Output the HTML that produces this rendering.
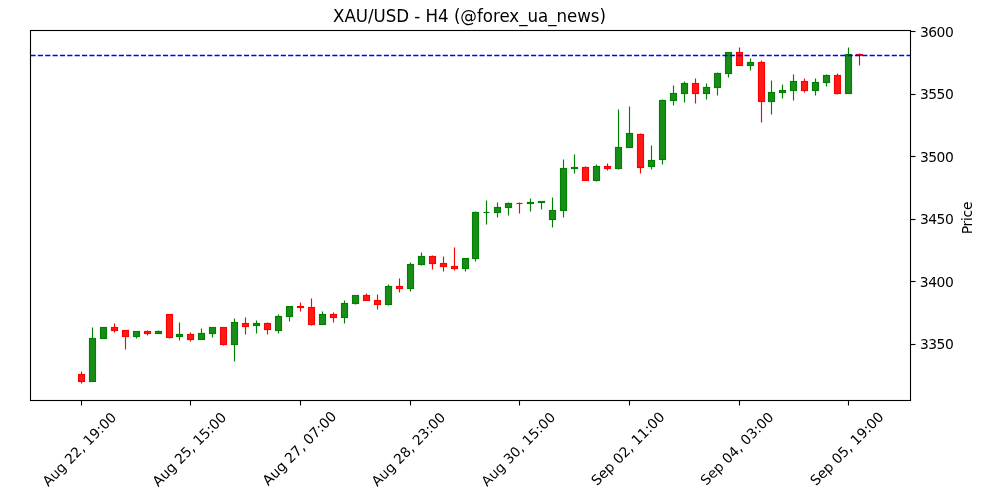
<!DOCTYPE html>
<html lang="en">
<head>
<meta charset="utf-8">
<title>XAU/USD - H4 (@forex_ua_news)</title>
<style>
html,body{margin:0;padding:0;background:#fff;}
body{width:1000px;height:500px;overflow:hidden;}
svg{display:block;}
text{font-family:"DejaVu Sans","Liberation Sans",sans-serif;fill:#000;}
</style>
</head>
<body>
<svg width="1000" height="500" viewBox="0 0 1000 500">
<rect x="0" y="0" width="1000" height="500" fill="#ffffff"/>
<g stroke-width="1.146" fill="none">
<line x1="81.5" x2="81.5" y1="371.5" y2="374.5" stroke="#ff0000"/>
<line x1="81.5" x2="81.5" y1="381.5" y2="383.5" stroke="#ff0000"/>
<line x1="92.5" x2="92.5" y1="327.5" y2="338.5" stroke="#008000"/>
<line x1="114.5" x2="114.5" y1="323.5" y2="327.5" stroke="#ff0000"/>
<line x1="114.5" x2="114.5" y1="330.5" y2="332.5" stroke="#ff0000"/>
<line x1="125.5" x2="125.5" y1="336.5" y2="349.5" stroke="#ff0000"/>
<line x1="136.5" x2="136.5" y1="336.5" y2="338.5" stroke="#008000"/>
<line x1="147.5" x2="147.5" y1="330.5" y2="331.5" stroke="#ff0000"/>
<line x1="147.5" x2="147.5" y1="333.5" y2="335.5" stroke="#ff0000"/>
<line x1="158.5" x2="158.5" y1="330.5" y2="331.5" stroke="#008000"/>
<line x1="169.5" x2="169.5" y1="337.5" y2="338.5" stroke="#ff0000"/>
<line x1="179.5" x2="179.5" y1="322.5" y2="334.5" stroke="#008000"/>
<line x1="179.5" x2="179.5" y1="336.5" y2="340.5" stroke="#008000"/>
<line x1="190.5" x2="190.5" y1="332.5" y2="334.5" stroke="#ff0000"/>
<line x1="190.5" x2="190.5" y1="339.5" y2="341.5" stroke="#ff0000"/>
<line x1="201.5" x2="201.5" y1="328.5" y2="333.5" stroke="#008000"/>
<line x1="212.5" x2="212.5" y1="333.5" y2="337.5" stroke="#008000"/>
<line x1="223.5" x2="223.5" y1="344.5" y2="345.5" stroke="#ff0000"/>
<line x1="234.5" x2="234.5" y1="318.5" y2="322.5" stroke="#008000"/>
<line x1="234.5" x2="234.5" y1="344.5" y2="361.5" stroke="#008000"/>
<line x1="245.5" x2="245.5" y1="317.5" y2="323.5" stroke="#ff0000"/>
<line x1="245.5" x2="245.5" y1="326.5" y2="334.5" stroke="#ff0000"/>
<line x1="256.5" x2="256.5" y1="320.5" y2="323.5" stroke="#008000"/>
<line x1="256.5" x2="256.5" y1="325.5" y2="333.5" stroke="#008000"/>
<line x1="267.5" x2="267.5" y1="322.5" y2="323.5" stroke="#ff0000"/>
<line x1="267.5" x2="267.5" y1="329.5" y2="334.5" stroke="#ff0000"/>
<line x1="278.5" x2="278.5" y1="314.5" y2="316.5" stroke="#008000"/>
<line x1="278.5" x2="278.5" y1="330.5" y2="333.5" stroke="#008000"/>
<line x1="289.5" x2="289.5" y1="316.5" y2="321.5" stroke="#008000"/>
<line x1="300.5" x2="300.5" y1="302.5" y2="306.5" stroke="#ff0000"/>
<line x1="300.5" x2="300.5" y1="307.5" y2="311.5" stroke="#ff0000"/>
<line x1="311.5" x2="311.5" y1="298.5" y2="307.5" stroke="#ff0000"/>
<line x1="311.5" x2="311.5" y1="324.5" y2="325.5" stroke="#ff0000"/>
<line x1="322.5" x2="322.5" y1="311.5" y2="314.5" stroke="#008000"/>
<line x1="333.5" x2="333.5" y1="312.5" y2="314.5" stroke="#ff0000"/>
<line x1="333.5" x2="333.5" y1="317.5" y2="322.5" stroke="#ff0000"/>
<line x1="344.5" x2="344.5" y1="300.5" y2="303.5" stroke="#008000"/>
<line x1="344.5" x2="344.5" y1="317.5" y2="323.5" stroke="#008000"/>
<line x1="355.5" x2="355.5" y1="303.5" y2="304.5" stroke="#008000"/>
<line x1="366.5" x2="366.5" y1="293.5" y2="295.5" stroke="#ff0000"/>
<line x1="377.5" x2="377.5" y1="294.5" y2="300.5" stroke="#ff0000"/>
<line x1="377.5" x2="377.5" y1="304.5" y2="309.5" stroke="#ff0000"/>
<line x1="388.5" x2="388.5" y1="284.5" y2="286.5" stroke="#008000"/>
<line x1="388.5" x2="388.5" y1="304.5" y2="305.5" stroke="#008000"/>
<line x1="399.5" x2="399.5" y1="278.5" y2="286.5" stroke="#ff0000"/>
<line x1="399.5" x2="399.5" y1="288.5" y2="292.5" stroke="#ff0000"/>
<line x1="410.5" x2="410.5" y1="262.5" y2="264.5" stroke="#008000"/>
<line x1="410.5" x2="410.5" y1="288.5" y2="291.5" stroke="#008000"/>
<line x1="421.5" x2="421.5" y1="252.5" y2="256.5" stroke="#008000"/>
<line x1="421.5" x2="421.5" y1="264.5" y2="265.5" stroke="#008000"/>
<line x1="432.5" x2="432.5" y1="255.5" y2="256.5" stroke="#ff0000"/>
<line x1="432.5" x2="432.5" y1="263.5" y2="269.5" stroke="#ff0000"/>
<line x1="443.5" x2="443.5" y1="256.5" y2="263.5" stroke="#ff0000"/>
<line x1="443.5" x2="443.5" y1="266.5" y2="271.5" stroke="#ff0000"/>
<line x1="454.5" x2="454.5" y1="247.5" y2="266.5" stroke="#ff0000"/>
<line x1="454.5" x2="454.5" y1="268.5" y2="270.5" stroke="#ff0000"/>
<line x1="465.5" x2="465.5" y1="268.5" y2="271.5" stroke="#008000"/>
<line x1="475.5" x2="475.5" y1="211.5" y2="212.5" stroke="#008000"/>
<line x1="475.5" x2="475.5" y1="258.5" y2="261.5" stroke="#008000"/>
<line x1="486.5" x2="486.5" y1="200.5" y2="212.5" stroke="#008000"/>
<line x1="486.5" x2="486.5" y1="212.5" y2="224.5" stroke="#008000"/>
<line x1="497.5" x2="497.5" y1="202.5" y2="207.5" stroke="#008000"/>
<line x1="497.5" x2="497.5" y1="212.5" y2="217.5" stroke="#008000"/>
<line x1="508.5" x2="508.5" y1="202.5" y2="203.5" stroke="#008000"/>
<line x1="508.5" x2="508.5" y1="207.5" y2="215.5" stroke="#008000"/>
<line x1="519.5" x2="519.5" y1="202.5" y2="203.5" stroke="#ff0000"/>
<line x1="519.5" x2="519.5" y1="203.5" y2="213.5" stroke="#ff0000"/>
<line x1="530.5" x2="530.5" y1="198.5" y2="202.5" stroke="#008000"/>
<line x1="530.5" x2="530.5" y1="203.5" y2="211.5" stroke="#008000"/>
<line x1="541.5" x2="541.5" y1="202.5" y2="209.5" stroke="#008000"/>
<line x1="552.5" x2="552.5" y1="197.5" y2="210.5" stroke="#008000"/>
<line x1="552.5" x2="552.5" y1="219.5" y2="227.5" stroke="#008000"/>
<line x1="563.5" x2="563.5" y1="159.5" y2="168.5" stroke="#008000"/>
<line x1="563.5" x2="563.5" y1="210.5" y2="217.5" stroke="#008000"/>
<line x1="574.5" x2="574.5" y1="154.5" y2="167.5" stroke="#008000"/>
<line x1="574.5" x2="574.5" y1="168.5" y2="173.5" stroke="#008000"/>
<line x1="585.5" x2="585.5" y1="166.5" y2="167.5" stroke="#ff0000"/>
<line x1="596.5" x2="596.5" y1="164.5" y2="166.5" stroke="#008000"/>
<line x1="596.5" x2="596.5" y1="180.5" y2="181.5" stroke="#008000"/>
<line x1="607.5" x2="607.5" y1="163.5" y2="166.5" stroke="#ff0000"/>
<line x1="607.5" x2="607.5" y1="168.5" y2="170.5" stroke="#ff0000"/>
<line x1="618.5" x2="618.5" y1="109.5" y2="147.5" stroke="#008000"/>
<line x1="618.5" x2="618.5" y1="168.5" y2="169.5" stroke="#008000"/>
<line x1="629.5" x2="629.5" y1="106.5" y2="133.5" stroke="#008000"/>
<line x1="640.5" x2="640.5" y1="133.5" y2="134.5" stroke="#ff0000"/>
<line x1="640.5" x2="640.5" y1="167.5" y2="173.5" stroke="#ff0000"/>
<line x1="651.5" x2="651.5" y1="145.5" y2="160.5" stroke="#008000"/>
<line x1="651.5" x2="651.5" y1="166.5" y2="169.5" stroke="#008000"/>
<line x1="662.5" x2="662.5" y1="99.5" y2="100.5" stroke="#008000"/>
<line x1="662.5" x2="662.5" y1="159.5" y2="164.5" stroke="#008000"/>
<line x1="673.5" x2="673.5" y1="85.5" y2="93.5" stroke="#008000"/>
<line x1="673.5" x2="673.5" y1="100.5" y2="105.5" stroke="#008000"/>
<line x1="684.5" x2="684.5" y1="81.5" y2="83.5" stroke="#008000"/>
<line x1="684.5" x2="684.5" y1="93.5" y2="102.5" stroke="#008000"/>
<line x1="695.5" x2="695.5" y1="78.5" y2="83.5" stroke="#ff0000"/>
<line x1="695.5" x2="695.5" y1="93.5" y2="103.5" stroke="#ff0000"/>
<line x1="706.5" x2="706.5" y1="83.5" y2="87.5" stroke="#008000"/>
<line x1="706.5" x2="706.5" y1="93.5" y2="99.5" stroke="#008000"/>
<line x1="717.5" x2="717.5" y1="72.5" y2="73.5" stroke="#008000"/>
<line x1="717.5" x2="717.5" y1="87.5" y2="95.5" stroke="#008000"/>
<line x1="728.5" x2="728.5" y1="73.5" y2="77.5" stroke="#008000"/>
<line x1="739.5" x2="739.5" y1="47.5" y2="52.5" stroke="#ff0000"/>
<line x1="750.5" x2="750.5" y1="58.5" y2="62.5" stroke="#008000"/>
<line x1="750.5" x2="750.5" y1="65.5" y2="70.5" stroke="#008000"/>
<line x1="761.5" x2="761.5" y1="60.5" y2="62.5" stroke="#ff0000"/>
<line x1="761.5" x2="761.5" y1="101.5" y2="122.5" stroke="#ff0000"/>
<line x1="771.5" x2="771.5" y1="80.5" y2="92.5" stroke="#008000"/>
<line x1="771.5" x2="771.5" y1="101.5" y2="114.5" stroke="#008000"/>
<line x1="782.5" x2="782.5" y1="84.5" y2="90.5" stroke="#008000"/>
<line x1="782.5" x2="782.5" y1="92.5" y2="98.5" stroke="#008000"/>
<line x1="793.5" x2="793.5" y1="74.5" y2="81.5" stroke="#008000"/>
<line x1="793.5" x2="793.5" y1="90.5" y2="100.5" stroke="#008000"/>
<line x1="804.5" x2="804.5" y1="78.5" y2="81.5" stroke="#ff0000"/>
<line x1="804.5" x2="804.5" y1="90.5" y2="92.5" stroke="#ff0000"/>
<line x1="815.5" x2="815.5" y1="78.5" y2="82.5" stroke="#008000"/>
<line x1="815.5" x2="815.5" y1="90.5" y2="95.5" stroke="#008000"/>
<line x1="826.5" x2="826.5" y1="74.5" y2="75.5" stroke="#008000"/>
<line x1="826.5" x2="826.5" y1="82.5" y2="86.5" stroke="#008000"/>
<line x1="837.5" x2="837.5" y1="73.5" y2="75.5" stroke="#ff0000"/>
<line x1="837.5" x2="837.5" y1="93.5" y2="94.5" stroke="#ff0000"/>
<line x1="848.5" x2="848.5" y1="47.5" y2="54.5" stroke="#008000"/>
<line x1="859.5" x2="859.5" y1="53.5" y2="54.5" stroke="#ff0000"/>
<line x1="859.5" x2="859.5" y1="55.5" y2="65.5" stroke="#ff0000"/>
</g>
<g stroke-width="1.146" fill-opacity="0.9">
<rect x="78.5" y="374.5" width="6" height="7" fill="#ff0000" stroke="#ff0000"/>
<rect x="89.5" y="338.5" width="6" height="43" fill="#008000" stroke="#008000"/>
<rect x="100.5" y="327.5" width="6" height="11" fill="#008000" stroke="#008000"/>
<rect x="111.5" y="327.5" width="6" height="3" fill="#ff0000" stroke="#ff0000"/>
<rect x="122.5" y="330.5" width="6" height="6" fill="#ff0000" stroke="#ff0000"/>
<rect x="133.5" y="331.5" width="6" height="5" fill="#008000" stroke="#008000"/>
<rect x="144.5" y="331.5" width="6" height="2" fill="#ff0000" stroke="#ff0000"/>
<rect x="155.5" y="331.5" width="6" height="2" fill="#008000" stroke="#008000"/>
<rect x="166.5" y="314.5" width="6" height="23" fill="#ff0000" stroke="#ff0000"/>
<rect x="176.5" y="334.5" width="6" height="2" fill="#008000" stroke="#008000"/>
<rect x="187.5" y="334.5" width="6" height="5" fill="#ff0000" stroke="#ff0000"/>
<rect x="198.5" y="333.5" width="6" height="6" fill="#008000" stroke="#008000"/>
<rect x="209.5" y="327.5" width="6" height="6" fill="#008000" stroke="#008000"/>
<rect x="220.5" y="327.5" width="6" height="17" fill="#ff0000" stroke="#ff0000"/>
<rect x="231.5" y="322.5" width="6" height="22" fill="#008000" stroke="#008000"/>
<rect x="242.5" y="323.5" width="6" height="3" fill="#ff0000" stroke="#ff0000"/>
<rect x="253.5" y="323.5" width="6" height="2" fill="#008000" stroke="#008000"/>
<rect x="264.5" y="323.5" width="6" height="6" fill="#ff0000" stroke="#ff0000"/>
<rect x="275.5" y="316.5" width="6" height="14" fill="#008000" stroke="#008000"/>
<rect x="286.5" y="306.5" width="6" height="10" fill="#008000" stroke="#008000"/>
<rect x="297.5" y="306.5" width="6" height="1" fill="#ff0000" stroke="#ff0000"/>
<rect x="308.5" y="307.5" width="6" height="17" fill="#ff0000" stroke="#ff0000"/>
<rect x="319.5" y="314.5" width="6" height="10" fill="#008000" stroke="#008000"/>
<rect x="330.5" y="314.5" width="6" height="3" fill="#ff0000" stroke="#ff0000"/>
<rect x="341.5" y="303.5" width="6" height="14" fill="#008000" stroke="#008000"/>
<rect x="352.5" y="295.5" width="6" height="8" fill="#008000" stroke="#008000"/>
<rect x="363.5" y="295.5" width="6" height="5" fill="#ff0000" stroke="#ff0000"/>
<rect x="374.5" y="300.5" width="6" height="4" fill="#ff0000" stroke="#ff0000"/>
<rect x="385.5" y="286.5" width="6" height="18" fill="#008000" stroke="#008000"/>
<rect x="396.5" y="286.5" width="6" height="2" fill="#ff0000" stroke="#ff0000"/>
<rect x="407.5" y="264.5" width="6" height="24" fill="#008000" stroke="#008000"/>
<rect x="418.5" y="256.5" width="6" height="8" fill="#008000" stroke="#008000"/>
<rect x="429.5" y="256.5" width="6" height="7" fill="#ff0000" stroke="#ff0000"/>
<rect x="440.5" y="263.5" width="6" height="3" fill="#ff0000" stroke="#ff0000"/>
<rect x="451.5" y="266.5" width="6" height="2" fill="#ff0000" stroke="#ff0000"/>
<rect x="462.5" y="258.5" width="6" height="10" fill="#008000" stroke="#008000"/>
<rect x="472.5" y="212.5" width="6" height="46" fill="#008000" stroke="#008000"/>
<line x1="483.5" x2="489.5" y1="212.5" y2="212.5" stroke="#008000"/>
<rect x="494.5" y="207.5" width="6" height="5" fill="#008000" stroke="#008000"/>
<rect x="505.5" y="203.5" width="6" height="4" fill="#008000" stroke="#008000"/>
<line x1="516.5" x2="522.5" y1="203.5" y2="203.5" stroke="#ff0000"/>
<rect x="527.5" y="202.5" width="6" height="1" fill="#008000" stroke="#008000"/>
<rect x="538.5" y="201.5" width="6" height="1" fill="#008000" stroke="#008000"/>
<rect x="549.5" y="210.5" width="6" height="9" fill="#008000" stroke="#008000"/>
<rect x="560.5" y="168.5" width="6" height="42" fill="#008000" stroke="#008000"/>
<rect x="571.5" y="167.5" width="6" height="1" fill="#008000" stroke="#008000"/>
<rect x="582.5" y="167.5" width="6" height="13" fill="#ff0000" stroke="#ff0000"/>
<rect x="593.5" y="166.5" width="6" height="14" fill="#008000" stroke="#008000"/>
<rect x="604.5" y="166.5" width="6" height="2" fill="#ff0000" stroke="#ff0000"/>
<rect x="615.5" y="147.5" width="6" height="21" fill="#008000" stroke="#008000"/>
<rect x="626.5" y="133.5" width="6" height="14" fill="#008000" stroke="#008000"/>
<rect x="637.5" y="134.5" width="6" height="33" fill="#ff0000" stroke="#ff0000"/>
<rect x="648.5" y="160.5" width="6" height="6" fill="#008000" stroke="#008000"/>
<rect x="659.5" y="100.5" width="6" height="59" fill="#008000" stroke="#008000"/>
<rect x="670.5" y="93.5" width="6" height="7" fill="#008000" stroke="#008000"/>
<rect x="681.5" y="83.5" width="6" height="10" fill="#008000" stroke="#008000"/>
<rect x="692.5" y="83.5" width="6" height="10" fill="#ff0000" stroke="#ff0000"/>
<rect x="703.5" y="87.5" width="6" height="6" fill="#008000" stroke="#008000"/>
<rect x="714.5" y="73.5" width="6" height="14" fill="#008000" stroke="#008000"/>
<rect x="725.5" y="52.5" width="6" height="21" fill="#008000" stroke="#008000"/>
<rect x="736.5" y="52.5" width="6" height="13" fill="#ff0000" stroke="#ff0000"/>
<rect x="747.5" y="62.5" width="6" height="3" fill="#008000" stroke="#008000"/>
<rect x="758.5" y="62.5" width="6" height="39" fill="#ff0000" stroke="#ff0000"/>
<rect x="768.5" y="92.5" width="6" height="9" fill="#008000" stroke="#008000"/>
<rect x="779.5" y="90.5" width="6" height="2" fill="#008000" stroke="#008000"/>
<rect x="790.5" y="81.5" width="6" height="9" fill="#008000" stroke="#008000"/>
<rect x="801.5" y="81.5" width="6" height="9" fill="#ff0000" stroke="#ff0000"/>
<rect x="812.5" y="82.5" width="6" height="8" fill="#008000" stroke="#008000"/>
<rect x="823.5" y="75.5" width="6" height="7" fill="#008000" stroke="#008000"/>
<rect x="834.5" y="75.5" width="6" height="18" fill="#ff0000" stroke="#ff0000"/>
<rect x="845.5" y="54.5" width="6" height="39" fill="#008000" stroke="#008000"/>
<rect x="856.5" y="54.5" width="6" height="1" fill="#ff0000" stroke="#ff0000"/>
</g>
<line x1="30.5" x2="910.5" y1="55.5" y2="55.5" stroke="#0000ff" stroke-width="1.389" stroke-dasharray="5.139 2.222"/>
<g stroke="#000" stroke-width="1.111" fill="none">
<line x1="81.5" x2="81.5" y1="400" y2="405.5"/>
<line x1="190.5" x2="190.5" y1="400" y2="405.5"/>
<line x1="300.5" x2="300.5" y1="400" y2="405.5"/>
<line x1="410.5" x2="410.5" y1="400" y2="405.5"/>
<line x1="519.5" x2="519.5" y1="400" y2="405.5"/>
<line x1="629.5" x2="629.5" y1="400" y2="405.5"/>
<line x1="739.5" x2="739.5" y1="400" y2="405.5"/>
<line x1="848.5" x2="848.5" y1="400" y2="405.5"/>
<line x1="910" x2="915.5" y1="31.5" y2="31.5"/>
<line x1="910" x2="915.5" y1="94.5" y2="94.5"/>
<line x1="910" x2="915.5" y1="156.5" y2="156.5"/>
<line x1="910" x2="915.5" y1="219.5" y2="219.5"/>
<line x1="910" x2="915.5" y1="281.5" y2="281.5"/>
<line x1="910" x2="915.5" y1="344.5" y2="344.5"/>
<rect x="30.5" y="30.5" width="880" height="370"/>
</g>
<g>
<text transform="translate(82.71 452.65) rotate(-45)" font-size="13.789" letter-spacing="0.02" text-anchor="middle">Aug 22, 19:00</text>
<text transform="translate(192.69 452.7) rotate(-45) scale(1 1.01)" font-size="13.889" letter-spacing="-0.03" text-anchor="middle">Aug 25, 15:00</text>
<text transform="translate(302.77 451.75) rotate(-45)" font-size="13.989" letter-spacing="-0.1" text-anchor="middle">Aug 27, 07:00</text>
<text transform="translate(411.8 452.65) rotate(-45)" font-size="13.789" letter-spacing="0.02" text-anchor="middle">Aug 28, 23:00</text>
<text transform="translate(521.58 452.5) rotate(-45) scale(1 0.98)" font-size="13.789" letter-spacing="0.03" text-anchor="middle">Aug 30, 15:00</text>
<text transform="translate(631.31 452) rotate(-45)" font-size="13.889" letter-spacing="-0.02" text-anchor="middle">Sep 02, 11:00</text>
<text transform="translate(740.34 452) rotate(-45)" font-size="13.789" text-anchor="middle">Sep 04, 03:00</text>
<text transform="translate(850.22 452) rotate(-45)" font-size="13.889" text-anchor="middle">Sep 05, 19:00</text>
<text transform="translate(920 37.1) scale(1 1.02)" font-size="13.889" letter-spacing="-0.52">3600</text>
<text transform="translate(920 99.1) scale(1 0.99)" font-size="13.889" letter-spacing="-0.52">3550</text>
<text transform="translate(920 162.1) scale(1 0.99)" font-size="13.889" letter-spacing="-0.52">3500</text>
<text transform="translate(920 224.35) scale(1 1.02)" font-size="13.889" letter-spacing="-0.52">3450</text>
<text transform="translate(919.75 287.1) scale(1 1.02)" font-size="13.889" letter-spacing="-0.45">3400</text>
<text transform="translate(920 348.6) scale(1 1.06)" font-size="13.889" letter-spacing="-0.52">3350</text>
<text transform="translate(469.5 21.55) scale(1 1.08)" font-size="16.667" letter-spacing="-0.03" text-anchor="middle">XAU/USD - H4 (@forex_ua_news)</text>
<text transform="translate(972.05 218.05) rotate(-90) scale(1 1.02)" font-size="13.989" letter-spacing="-0.3" text-anchor="middle">Price</text>
</g>
</svg>
</body>
</html>
